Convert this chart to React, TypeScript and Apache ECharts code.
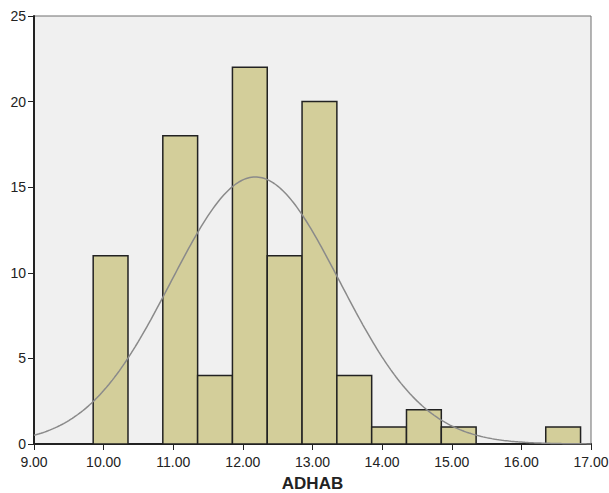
import React, { useEffect, useRef } from "react";
import * as echarts from "echarts";

const binStarts = [9.85, 10.85, 11.35, 11.85, 12.35, 12.85, 13.35, 13.85, 14.35, 14.85, 16.35];
const counts = [11, 18, 4, 22, 11, 20, 4, 1, 2, 1, 1];
const binWidth = 0.5;
const fitMean = 12.18;
const fitSd = 1.215;
const xTicks = [9, 10, 11, 12, 13, 14, 15, 16, 17];
const yTicks = [0, 5, 10, 15, 20, 25];

export default function App() {
  const ref = useRef<HTMLDivElement>(null);
  useEffect(() => {
    const chart = echarts.init(ref.current!, null, { renderer: "svg" });
    const n = counts.reduce((a, b) => a + b, 0);
    const curve: number[][] = [];
    for (let i = 0; i <= 320; i++) {
      const x = 9 + (8 * i) / 320;
      const z = (x - fitMean) / fitSd;
      const y = (n * binWidth) / (fitSd * Math.sqrt(2 * Math.PI)) * Math.exp(-0.5 * z * z);
      curve.push([x, y]);
    }
    const bars = binStarts.map((s, i) => [s, s + binWidth, counts[i]]);
    chart.setOption({
      animation: false,
      grid: {
        left: 34, top: 16, right: 18, bottom: 49,
        outerBoundsMode: "none",
        containLabel: false,
        show: true, backgroundColor: "#f0f0f0", borderColor: "#6e6e6e", borderWidth: 1,
      },
      xAxis: {
        type: "value", min: xTicks[0], max: xTicks[xTicks.length - 1], interval: 1,
        name: "ADHAB", nameLocation: "middle", nameGap: 31,
        nameTextStyle: { fontFamily: "Liberation Sans", fontWeight: "bold", fontSize: 17, color: "#222" },
        axisLine: { show: true, lineStyle: { color: "#222", width: 2 } },
        axisTick: { show: true, length: 6, lineStyle: { color: "#222" } },
        axisLabel: {
          fontFamily: "Liberation Sans", fontSize: 14, color: "#222", margin: 11,
          formatter: (v: number) => v.toFixed(2),
        },
        splitLine: { show: false },
      },
      yAxis: {
        type: "value", min: yTicks[0], max: yTicks[yTicks.length - 1], interval: 5,
        axisLine: { show: true, lineStyle: { color: "#222", width: 2 } },
        axisTick: { show: true, length: 6, lineStyle: { color: "#222" } },
        axisLabel: { fontFamily: "Liberation Sans", fontSize: 14, color: "#222", margin: 8 },
        splitLine: { show: false },
      },
      series: [
        {
          type: "custom",
          data: bars,
          renderItem: (params: any, api: any) => {
            const p0 = api.coord([api.value(0), 0]);
            const p1 = api.coord([api.value(1), api.value(2)]);
            return {
              type: "rect",
              shape: { x: p0[0], y: p1[1], width: p1[0] - p0[0], height: p0[1] - p1[1] },
              style: { fill: "#d3ce9a", stroke: "#222", lineWidth: 1.5 },
            };
          },
          z: 2,
        },
        {
          type: "line",
          data: curve,
          showSymbol: false,
          smooth: false,
          lineStyle: { color: "#8a8a8a", width: 1.5 },
          z: 3,
        },
      ],
    });
    return () => chart.dispose();
  }, []);
  return (
    <div
      ref={ref}
      style={{ position: "absolute", left: 0, top: 0, width: 609, height: 493 }}
    />
  );
}
